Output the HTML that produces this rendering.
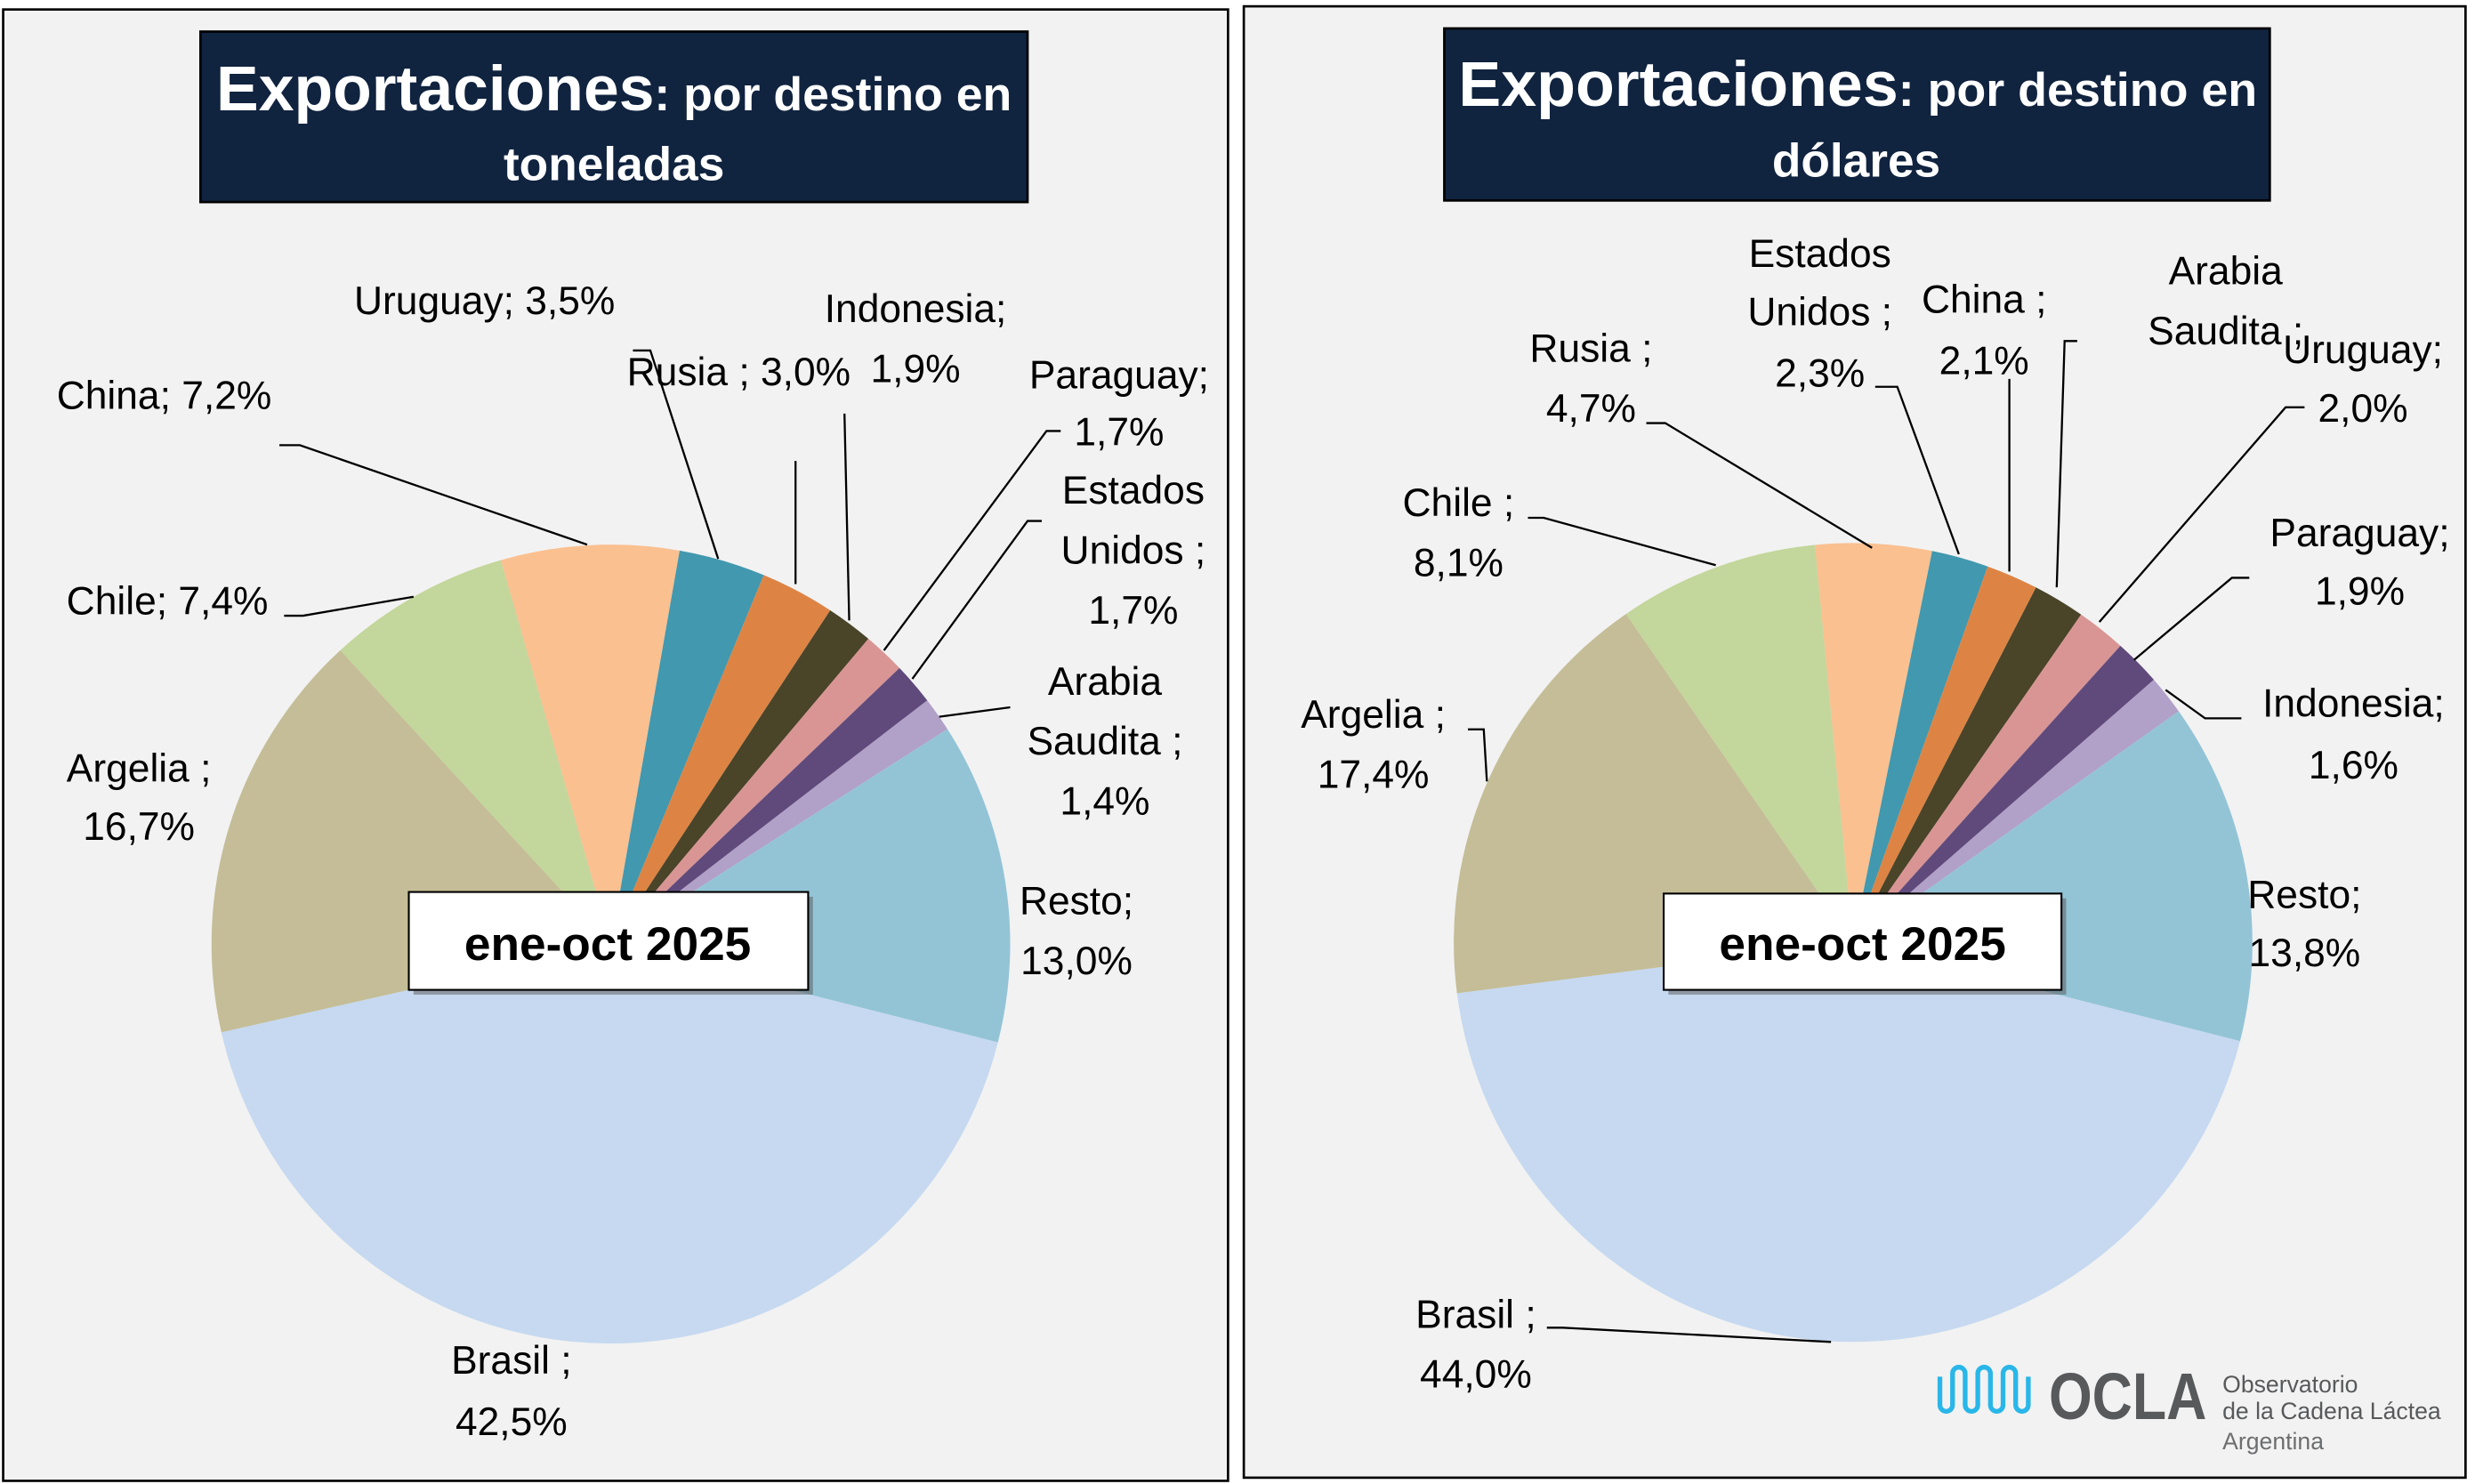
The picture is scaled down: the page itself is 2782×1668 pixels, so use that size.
<!DOCTYPE html>
<html><head><meta charset="utf-8">
<style>
html,body{margin:0;padding:0;background:#fff;}
svg{display:block;}
text{font-family:"Liberation Sans",sans-serif;fill:#000;}
.lbl{font-size:25px;}
</style></head>
<body>
<svg id="chart" width="2782" height="1668" viewBox="0 0 1568 940" preserveAspectRatio="none" xmlns="http://www.w3.org/2000/svg">
  <rect x="0" y="0" width="1568" height="940" fill="#ffffff"/>
  <rect x="2" y="6" width="776" height="932" fill="#f2f2f2" stroke="#000" stroke-width="1.5"/>
  <rect x="788" y="4" width="774" height="932" fill="#f2f2f2" stroke="#000" stroke-width="1.5"/>

  <g>
    <rect x="127" y="20" width="524" height="108" fill="#10233f" stroke="#000" stroke-width="1.5"/>
    <text x="137" y="70" textLength="504" lengthAdjust="spacingAndGlyphs" style="fill:#fff;font-weight:bold;font-size:40px">Exportaciones<tspan style="font-size:30px">: por destino en</tspan></text>
    <text x="389" y="114" text-anchor="middle" style="fill:#fff;font-weight:bold;font-size:30px">toneladas</text>
  </g>
  <g>
    <rect x="915" y="18" width="523" height="109" fill="#10233f" stroke="#000" stroke-width="1.5"/>
    <text x="924" y="67" textLength="506" lengthAdjust="spacingAndGlyphs" style="fill:#fff;font-weight:bold;font-size:40px">Exportaciones<tspan style="font-size:30px">: por destino en</tspan></text>
    <text x="1176" y="112" text-anchor="middle" style="fill:#fff;font-weight:bold;font-size:30px">dólares</text>
  </g>

  <g id="pieL"></g>
  <g id="pieR"></g>
  <g id="labels"></g>

  <g>
    <rect x="262" y="568" width="253" height="62" fill="#555" opacity="0.5"/>
    <rect x="259" y="565" width="253" height="62" fill="#fff" stroke="#000" stroke-width="1.2"/>
    <text x="385" y="608" text-anchor="middle" style="font-weight:bold;font-size:30px">ene-oct 2025</text>
  </g>
  <g>
    <rect x="1057" y="569" width="252" height="61" fill="#555" opacity="0.5"/>
    <rect x="1054" y="566" width="252" height="61" fill="#fff" stroke="#000" stroke-width="1.2"/>
    <text x="1180" y="608" text-anchor="middle" style="font-weight:bold;font-size:30px">ene-oct 2025</text>
  </g>

  <g>
    <path d="M1229 872 v18 a4 4 0 0 0 8 0 v-20 a4 4 0 0 1 8 0 v20 a4 4 0 0 0 8 0 v-20 a4 4 0 0 1 8 0 v20 a4 4 0 0 0 8 0 v-20 a4 4 0 0 1 8 0 v20 a4 4 0 0 0 8 0 v-18" fill="none" stroke="#29b6e8" stroke-width="3"/>
    <text x="1298" y="899" textLength="100" lengthAdjust="spacingAndGlyphs" style="font-weight:bold;font-size:42px;fill:#58595b">OCLA</text>
    <text x="1408" y="882" style="font-size:15px;fill:#58595b">Observatorio</text>
    <text x="1408" y="899" style="font-size:15px;fill:#58595b">de la Cadena Láctea</text>
    <text x="1408" y="918" style="font-size:15px;fill:#6d6e70">Argentina</text>
  </g>
</svg>
<script>
// Left chart (toneladas)
const catsL = ["China","Uruguay","Rusia","Indonesia","Paraguay","Estados Unidos","Arabia Saudita","Resto","Brasil","Argelia","Chile"];
const valsL = [7.2,3.5,3.0,1.9,1.7,1.7,1.4,13.0,42.5,16.7,7.4];
// Right chart (dolares)
const catsR = ["Rusia","Estados Unidos","China","Arabia Saudita","Uruguay","Paraguay","Indonesia","Resto","Brasil","Argelia","Chile"];
const valsR = [4.7,2.3,2.1,2.1,2.0,1.9,1.6,13.8,44.0,17.4,8.1];

const colors = ["#fac090","#4198af","#dd8444","#4a4429","#d99594","#604a7b","#b1a0c7","#93c4d6","#c6d9f0","#c4bd97","#c3d69b"];
const NS = "http://www.w3.org/2000/svg";

function drawPie(gid, cats, vals, cx, cy, r, startDeg){
  const g = document.getElementById(gid);
  const tot = vals.reduce((a,b)=>a+b,0);
  let a = startDeg*Math.PI/180;
  vals.forEach((v,i)=>{
    const a2 = a + v/tot*2*Math.PI;
    const x1=cx+r*Math.sin(a), y1=cy-r*Math.cos(a);
    const x2=cx+r*Math.sin(a2), y2=cy-r*Math.cos(a2);
    const large = (a2-a)>Math.PI?1:0;
    const p = document.createElementNS(NS,"path");
    p.setAttribute("d",`M${cx},${cy} L${x1},${y1} A${r},${r} 0 ${large} 1 ${x2},${y2} Z`);
    p.setAttribute("fill",colors[i]);
    
    
    g.appendChild(p);
    a = a2;
  });
}
drawPie("pieL", catsL, valsL, 387, 598, 253, -16);
drawPie("pieR", catsR, valsR, 1174, 597, 253, -5.5);

function fmt(v){return v.toFixed(1).replace(".",",")+"%";}

const lg = document.getElementById("labels");
function label(cats, vals, i, lines, x, ys, anchor, pts){
  const t = document.createElementNS(NS,"text");
  t.setAttribute("class","lbl");
  t.setAttribute("text-anchor",anchor||"middle");
  
  
  lines.forEach((ln,k)=>{
    const s = document.createElementNS(NS,"tspan");
    s.setAttribute("x",x); s.setAttribute("y",ys[k]);
    s.textContent = ln.replace("{v}", fmt(vals[i]));
    t.appendChild(s);
  });
  lg.appendChild(t);
  if(pts){
    const pl = document.createElementNS(NS,"polyline");
    pl.setAttribute("points",pts);
    pl.setAttribute("fill","none");
    pl.setAttribute("stroke","#000");
    pl.setAttribute("stroke-width","1.3");
    
    
    lg.appendChild(pl);
  }
}
// left
label(catsL,valsL,0,["China; {v}"],104,[259],"middle","177,282 190,282 372,345");
label(catsL,valsL,1,["Uruguay; {v}"],307,[199],"middle","401,222 412,222 455,354");
label(catsL,valsL,2,["Rusia ; {v}"],468,[244],"middle","504,292 504,370");
label(catsL,valsL,3,["Indonesia;","{v}"],580,[204,242],"middle","535,262 538,393");
label(catsL,valsL,4,["Paraguay;","{v}"],709,[246,282],"middle","672,273 663,273 560,412");
label(catsL,valsL,5,["Estados","Unidos ;","{v}"],718,[319,357,395],"middle","660,330 651,330 578,430");
label(catsL,valsL,6,["Arabia","Saudita ;","{v}"],700,[440,478,516],"middle","640,448 595,454");
label(catsL,valsL,7,["Resto;","{v}"],682,[579,617],"middle",null);
label(catsL,valsL,8,["Brasil ;","{v}"],324,[870,909],"middle",null);
label(catsL,valsL,9,["Argelia ;","{v}"],88,[495,532],"middle",null);
label(catsL,valsL,10,["Chile; {v}"],106,[389],"middle","180,390 192,390 262,378");
// right
label(catsR,valsR,0,["Rusia ;","{v}"],1008,[229,267],"middle","1043,268 1055,268 1186,347");
label(catsR,valsR,1,["Estados","Unidos ;","{v}"],1153,[169,206,245],"middle","1188,245 1202,245 1241,351");
label(catsR,valsR,2,["China ;","{v}"],1257,[198,237],"middle","1273,240 1273,362");
label(catsR,valsR,3,["Arabia","Saudita ;"],1410,[180,218],"middle","1316,216 1308,216 1303,372");
label(catsR,valsR,4,["Uruguay;","{v}"],1497,[230,267],"middle","1460,258 1448,258 1330,394");
label(catsR,valsR,5,["Paraguay;","{v}"],1495,[346,383],"middle","1425,366 1414,366 1352,418");
label(catsR,valsR,6,["Indonesia;","{v}"],1491,[454,493],"middle","1420,455 1397,455 1372,437");
label(catsR,valsR,7,["Resto;","{v}"],1460,[575,612],"middle",null);
label(catsR,valsR,8,["Brasil ;","{v}"],935,[841,879],"middle","980,841 990,841 1160,850");
label(catsR,valsR,9,["Argelia ;","{v}"],870,[461,499],"middle","930,462 940,462 942,495");
label(catsR,valsR,10,["Chile ;","{v}"],924,[327,365],"middle","968,328 978,328 1087,358");
</script>
</body></html>
